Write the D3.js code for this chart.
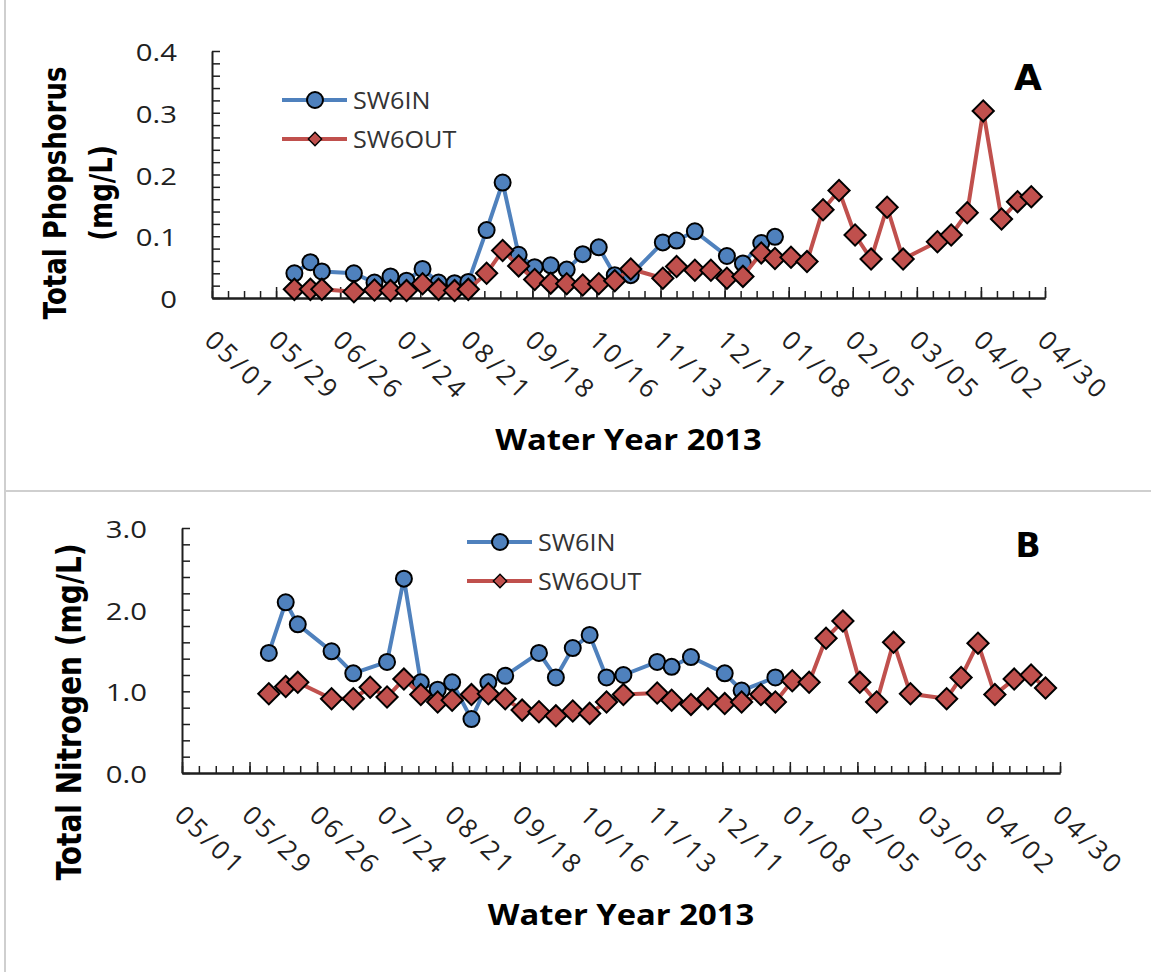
<!DOCTYPE html>
<html>
<head>
<meta charset="utf-8">
<script src="https://cdn.jsdelivr.net/npm/d3@7"></script>
<style>
  body { margin: 0; background: #fff; }
  svg { display: block; }
</style>
</head>
<body>
<div id="chart"></div>
<script>
// x range of both panels (water year 2013)
var x_start = "2012-05-01"
var x_end = "2013-04-30"

// SW6OUT sampling dates (same for both panels)
var out_dates = ["2012-06-06", "2012-06-13", "2012-06-18", "2012-07-02", "2012-07-11", "2012-07-18",
    "2012-07-25", "2012-08-01", "2012-08-08", "2012-08-15", "2012-08-21", "2012-08-29", "2012-09-05",
    "2012-09-12", "2012-09-19", "2012-09-26", "2012-10-03", "2012-10-10", "2012-10-17", "2012-10-24",
    "2012-10-31", "2012-11-14", "2012-11-20", "2012-11-28", "2012-12-05", "2012-12-12", "2012-12-19",
    "2012-12-27", "2013-01-02", "2013-01-09", "2013-01-16", "2013-01-23", "2013-01-30", "2013-02-06",
    "2013-02-13", "2013-02-20", "2013-02-27", "2013-03-14", "2013-03-20", "2013-03-27", "2013-04-03",
    "2013-04-11", "2013-04-18", "2013-04-24"]

// SW6IN dates, panel A
var tp_in_dates = ["2012-06-06", "2012-06-13", "2012-06-18", "2012-07-02", "2012-07-11", "2012-07-18",
    "2012-07-25", "2012-08-01", "2012-08-08", "2012-08-15", "2012-08-21", "2012-08-29", "2012-09-05",
    "2012-09-12", "2012-09-19", "2012-09-26", "2012-10-03", "2012-10-10", "2012-10-17", "2012-10-24",
    "2012-10-31", "2012-11-14", "2012-11-20", "2012-11-28", "2012-12-12", "2012-12-19", "2012-12-27",
    "2013-01-02"]

// SW6IN dates, panel B
var tn_in_dates = ["2012-06-06", "2012-06-13", "2012-06-18", "2012-07-02", "2012-07-11", "2012-07-25",
    "2012-08-01", "2012-08-08", "2012-08-15", "2012-08-21", "2012-08-29", "2012-09-05", "2012-09-12",
    "2012-09-26", "2012-10-03", "2012-10-10", "2012-10-17", "2012-10-24", "2012-10-31", "2012-11-14",
    "2012-11-20", "2012-11-28", "2012-12-12", "2012-12-19", "2013-01-02"]

// total phosphorus (mg/L)
var tp_in = [0.040, 0.058, 0.043, 0.040, 0.025, 0.035, 0.028, 0.047, 0.025, 0.024, 0.026, 0.110, 0.187,
    0.070, 0.050, 0.053, 0.046, 0.071, 0.082, 0.037, 0.037, 0.090, 0.093, 0.108, 0.068, 0.056, 0.089, 0.099]
var tp_out = [0.014, 0.014, 0.014, 0.010, 0.013, 0.012, 0.012, 0.023, 0.014, 0.012, 0.014, 0.040, 0.077,
    0.052, 0.030, 0.024, 0.023, 0.021, 0.023, 0.028, 0.047, 0.032, 0.051, 0.045, 0.045, 0.032, 0.035,
    0.073, 0.064, 0.066, 0.059, 0.143, 0.174, 0.102, 0.063, 0.147, 0.063, 0.091, 0.102, 0.138, 0.303,
    0.128, 0.156, 0.164]

// total nitrogen (mg/L)
var tn_in = [1.47, 2.09, 1.82, 1.49, 1.22, 1.36, 2.38, 1.11, 1.02, 1.11, 0.66, 1.11, 1.19, 1.47, 1.17,
    1.53, 1.69, 1.17, 1.20, 1.36, 1.30, 1.42, 1.22, 1.01, 1.17]
var tn_out = [0.97, 1.06, 1.11, 0.91, 0.91, 1.05, 0.93, 1.15, 0.96, 0.87, 0.89, 0.96, 0.97, 0.91, 0.77,
    0.75, 0.70, 0.76, 0.73, 0.87, 0.96, 0.98, 0.89, 0.84, 0.91, 0.85, 0.87, 0.96, 0.87, 1.13, 1.11, 1.65,
    1.86, 1.11, 0.87, 1.60, 0.97, 0.91, 1.17, 1.59, 0.96, 1.15, 1.20, 1.04]

// axis ticks and labels
var tp_ticks = [0, 0.1, 0.2, 0.3, 0.4]
var tp_tick_labels = ["0", "0.1", "0.2", "0.3", "0.4"]
var tn_ticks = [0, 1, 2, 3]
var tn_tick_labels = ["0.0", "1.0", "2.0", "3.0"]
var series_names = ["SW6IN", "SW6OUT"]

var blue = "#4F81BD"
var red = "#C0504D"
var ink = "#1f1f1f"
var stretch = 1.22   // the original text is a bit wide

var parse = d3.utcParse("%Y-%m-%d")
var fmt = d3.utcFormat("%m/%d")

var svg = d3.select("#chart")
    .append("svg")
    .attr("width", 1151)
    .attr("height", 972)

svg.append("rect").attr("width", 1151).attr("height", 972).attr("fill", "#fff")

// panel frame lines
svg.append("line")
    .attr("x1", 5).attr("x2", 5).attr("y1", 0).attr("y2", 972)
    .attr("stroke", "#cfcfcf").attr("stroke-width", 2)
svg.append("line")
    .attr("x1", 5).attr("x2", 1151).attr("y1", 491).attr("y2", 491)
    .attr("stroke", "#cfcfcf").attr("stroke-width", 2)

draw_panel({
    left: 212, right: 1045, top: 51, bottom: 298,
    ymax: 0.4, ystep: 0.02,
    ticks: tp_ticks, tick_labels: tp_tick_labels,
    in_dates: tp_in_dates, in_vals: tp_in, out_vals: tp_out,
    title: ["Total Phopshorus", "(mg/L)"], title_size: 26, title_x: [66, 112], title_y: 193,
    letter: "A", letter_x: 1028, letter_y: 90, letter_size: 36,
    legend_x: 282, legend_y: 100
})

draw_panel({
    left: 182, right: 1060, top: 528, bottom: 773,
    ymax: 3, ystep: 0.2,
    ticks: tn_ticks, tick_labels: tn_tick_labels,
    in_dates: tn_in_dates, in_vals: tn_in, out_vals: tn_out,
    title: ["Total Nitrogen (mg/L)"], title_size: 28, title_x: [81], title_y: 712,
    letter: "B", letter_x: 1028, letter_y: 557, letter_size: 33,
    legend_x: 467, legend_y: 542
})

function draw_panel(p) {
    var g = svg.append("g")
    var x = d3.scaleUtc()
        .domain([parse(x_start), parse(x_end)])
        .range([p.left, p.right])
    var y = d3.scaleLinear()
        .domain([0, p.ymax])
        .range([p.bottom, p.top])

    // x axis: weekly minor ticks, 28 day major ticks, all pointing up
    var minor = d3.range(0, 53).map(i => d3.utcDay.offset(parse(x_start), 7 * i))
    var major = d3.range(0, 14).map(i => d3.utcDay.offset(parse(x_start), 28 * i))

    g.append("g")
        .attr("transform", "translate(0," + p.bottom + ")")
        .call(d3.axisBottom(x).tickValues(minor).tickSize(-7).tickSizeOuter(0).tickFormat(""))
    g.append("g")
        .attr("transform", "translate(0," + p.bottom + ")")
        .call(d3.axisBottom(x).tickValues(major).tickSize(-11).tickSizeOuter(0).tickFormat(""))

    // y axis: minor ticks pointing right
    var yminor = d3.range(0, Math.round(p.ymax / p.ystep) + 1).map(i => i * p.ystep)
    g.append("g")
        .attr("transform", "translate(" + p.left + ",0)")
        .call(d3.axisLeft(y).tickValues(yminor).tickSize(-8).tickSizeOuter(0).tickFormat(""))

    g.selectAll(".domain").attr("stroke", ink).attr("stroke-width", 2)
    g.selectAll(".tick line").attr("stroke", ink).attr("stroke-width", 1.5)

    // y tick labels
    g.append("g").selectAll("text")
        .data(p.ticks)
        .enter()
        .append("text")
        .attr("transform", (d) => "translate(" + (p.left - 35) + "," + (y(d) + 10) + ") scale(" + stretch + ",1)")
        .attr("text-anchor", "end")
        .attr("font-family", "'Open Sans'")
        .attr("font-size", 24)
        .attr("fill", ink)
        .text((d, i) => p.tick_labels[i])

    // x tick labels, slanted
    g.append("g").selectAll("text")
        .data(major)
        .enter()
        .append("text")
        .attr("transform", (d) => "translate(" + (x(d) - 9) + "," + (p.bottom + 44) + ") rotate(44)")
        .attr("font-family", "'Open Sans'")
        .attr("font-size", 26)
        .attr("letter-spacing", 3.5)
        .attr("fill", ink)
        .text((d) => fmt(d))

    // x title
    g.append("text")
        .attr("transform", "translate(" + ((p.left + p.right) / 2) + "," + (p.bottom + 152) + ") scale(1.17,1)")
        .attr("text-anchor", "middle")
        .attr("font-family", "'Open Sans'")
        .attr("font-weight", "bold")
        .attr("font-size", 28)
        .attr("fill", "#000")
        .text("Water Year 2013")

    // y title, one or two lines
    var ty = p.title_y || (p.top + p.bottom) / 2
    p.title.forEach(function (line, i) {
        g.append("text")
            .attr("transform", "translate(" + p.title_x[i] + "," + ty + ") scale(" + stretch + ",1) rotate(-90)")
            .attr("text-anchor", "middle")
            .attr("font-family", "'DejaVu Sans'")
            .attr("font-weight", "bold")
            .attr("font-size", p.title_size)
            .attr("fill", "#000")
            .text(line)
    })

    // panel letter
    g.append("text")
        .attr("x", p.letter_x)
        .attr("y", p.letter_y)
        .attr("text-anchor", "middle")
        .attr("font-family", "'DejaVu Sans'")
        .attr("font-weight", "bold")
        .attr("font-size", p.letter_size)
        .attr("fill", "#000")
        .text(p.letter)

    var line = d3.line()
        .x((d) => x(d[0]))
        .y((d) => y(d[1]))

    var in_data = d3.zip(p.in_dates.map(parse), p.in_vals)
    var out_data = d3.zip(out_dates.map(parse), p.out_vals)

    // SW6IN
    g.append("path")
        .datum(in_data)
        .attr("d", line)
        .attr("fill", "none")
        .attr("stroke", blue)
        .attr("stroke-width", 4)
        .attr("stroke-linejoin", "round")
    g.append("g").selectAll("circle")
        .data(in_data)
        .enter()
        .append("circle")
        .attr("cx", (d) => x(d[0]))
        .attr("cy", (d) => y(d[1]))
        .attr("r", 8)
        .attr("fill", blue)
        .attr("stroke", "#000")
        .attr("stroke-width", 2)

    // SW6OUT
    var diamond = d3.symbol(d3.symbolSquare, 225)
    g.append("path")
        .datum(out_data)
        .attr("d", line)
        .attr("fill", "none")
        .attr("stroke", red)
        .attr("stroke-width", 4)
        .attr("stroke-linejoin", "round")
    g.append("g").selectAll("path")
        .data(out_data)
        .enter()
        .append("path")
        .attr("d", diamond)
        .attr("transform", (d) => "translate(" + x(d[0]) + "," + y(d[1]) + ") rotate(45)")
        .attr("fill", red)
        .attr("stroke", "#000")
        .attr("stroke-width", 2)

    // legend
    var lg = g.append("g").attr("transform", "translate(" + p.legend_x + "," + p.legend_y + ")")
    series_names.forEach(function (name, i) {
        var row = lg.append("g").attr("transform", "translate(0," + (i * 39) + ")")
        row.append("line")
            .attr("x1", 0).attr("x2", 65)
            .attr("stroke", i == 0 ? blue : red)
            .attr("stroke-width", 4)
        if (i == 0) {
            row.append("circle")
                .attr("cx", 33).attr("r", 8)
                .attr("fill", blue).attr("stroke", "#000").attr("stroke-width", 2)
        } else {
            row.append("path")
                .attr("d", d3.symbol(d3.symbolSquare, 90))
                .attr("transform", "translate(33,0) rotate(45)")
                .attr("fill", red).attr("stroke", "#000").attr("stroke-width", 1.3)
        }
        row.append("text")
            .attr("transform", "translate(71,9) scale(1.05,1)")
            .attr("font-family", "'Open Sans'")
            .attr("font-size", 24)
            .attr("fill", "#333")
            .text(name)
    })
}
</script>
</body>
</html>
